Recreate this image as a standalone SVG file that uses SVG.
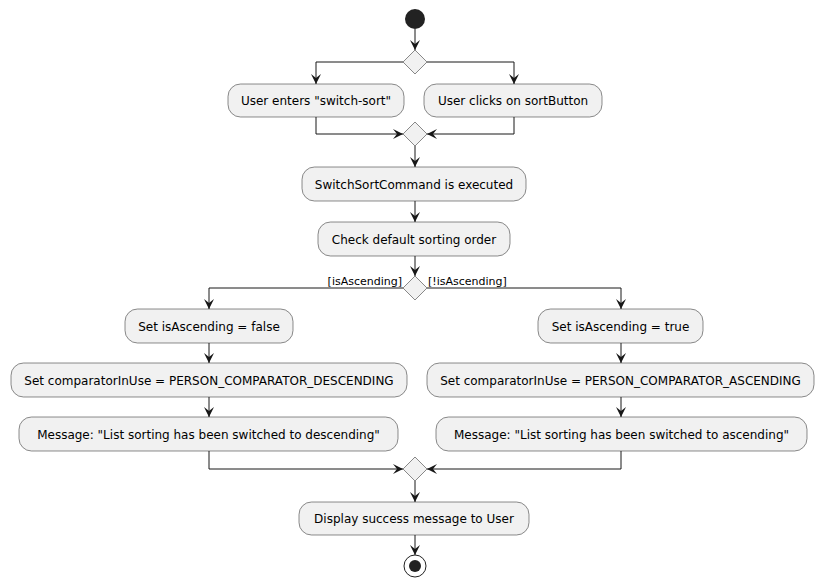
<svg xmlns="http://www.w3.org/2000/svg" width="824" height="587" viewBox="0 0 824 587">
<defs>
<style>
.box rect{fill:#F1F1F1;stroke:#181818;stroke-width:0.5}
.box text{font-family:"DejaVu Sans",sans-serif;font-size:12px;fill:#000;text-anchor:middle}
.dia{fill:#F1F1F1;stroke:#181818;stroke-width:0.5}
.ln{fill:none;stroke:#181818;stroke-width:1}
.lbl{font-family:"DejaVu Sans",sans-serif;font-size:11px;fill:#000}
</style>
<marker id="ah" viewBox="0 0 10 10" refX="10" refY="5" markerWidth="10" markerHeight="10" markerUnits="userSpaceOnUse" orient="auto">
<polygon points="0,0 10,5 0,10 4,5" fill="#181818"/>
</marker>
</defs>
<rect width="824" height="587" fill="#FFFFFF"/>

<g id="connectors">
<path class="ln" d="M415,29 L415,50" marker-end="url(#ah)"/>
<path class="ln" d="M403,62 L316,62 L316,84" marker-end="url(#ah)"/>
<path class="ln" d="M427,62 L514,62 L514,84" marker-end="url(#ah)"/>
<path class="ln" d="M316,117 L316,134 L403,134" marker-end="url(#ah)"/>
<path class="ln" d="M514,117 L514,134 L427,134" marker-end="url(#ah)"/>
<path class="ln" d="M415,146 L415,167" marker-end="url(#ah)"/>
<path class="ln" d="M415,201 L415,222" marker-end="url(#ah)"/>
<path class="ln" d="M415,256 L415,276" marker-end="url(#ah)"/>
<path class="ln" d="M403,288 L209,288 L209,309" marker-end="url(#ah)"/>
<path class="ln" d="M427,288 L621,288 L621,309" marker-end="url(#ah)"/>
<path class="ln" d="M209,343 L209,363" marker-end="url(#ah)"/>
<path class="ln" d="M209,397 L209,417" marker-end="url(#ah)"/>
<path class="ln" d="M621,343 L621,363" marker-end="url(#ah)"/>
<path class="ln" d="M621,397 L621,417" marker-end="url(#ah)"/>
<path class="ln" d="M209,451 L209,469 L403,469" marker-end="url(#ah)"/>
<path class="ln" d="M621,451 L621,469 L427,469" marker-end="url(#ah)"/>
<path class="ln" d="M415,481 L415,502" marker-end="url(#ah)"/>
<path class="ln" d="M415,535 L415,555" marker-end="url(#ah)"/>
<text class="lbl" x="402" y="285" text-anchor="end">[isAscending]</text>
<text class="lbl" x="428" y="285">[!isAscending]</text>
</g>

<g id="start"><circle cx="415" cy="19" r="10" fill="#222222"/></g>
<g id="split1"><polygon class="dia" points="415,50 427,62 415,74 403,62"/></g>
<g id="userEnters" class="box"><rect x="228" y="84" width="176" height="33" rx="12.5"/><text x="316" y="105">User enters "switch-sort"</text></g>
<g id="userClicks" class="box"><rect x="424" y="84" width="178" height="33" rx="12.5"/><text x="513" y="105">User clicks on sortButton</text></g>
<g id="merge1"><polygon class="dia" points="415,122 427,134 415,146 403,134"/></g>
<g id="executed" class="box"><rect x="302" y="167" width="224" height="34" rx="12.5"/><text x="414" y="189">SwitchSortCommand is executed</text></g>
<g id="checkOrder" class="box"><rect x="318" y="222" width="192" height="34" rx="12.5"/><text x="414" y="244">Check default sorting order</text></g>
<g id="decision"><polygon class="dia" points="415,276 427,288 415,300 403,288"/></g>
<g id="setFalse" class="box"><rect x="125" y="309" width="168" height="34" rx="12.5"/><text x="209" y="331">Set isAscending = false</text></g>
<g id="setDesc" class="box"><rect x="11" y="363" width="396" height="34" rx="12.5"/><text x="209" y="385">Set comparatorInUse = PERSON_COMPARATOR_DESCENDING</text></g>
<g id="msgDesc" class="box"><rect x="19" y="417" width="379" height="34" rx="12.5"/><text x="208.5" y="439">Message: "List sorting has been switched to descending"</text></g>
<g id="setTrue" class="box"><rect x="538" y="309" width="165" height="34" rx="12.5"/><text x="620.5" y="331">Set isAscending = true</text></g>
<g id="setAsc" class="box"><rect x="427" y="363" width="387" height="34" rx="12.5"/><text x="620.5" y="385">Set comparatorInUse = PERSON_COMPARATOR_ASCENDING</text></g>
<g id="msgAsc" class="box"><rect x="436" y="417" width="371" height="34" rx="12.5"/><text x="621.5" y="439">Message: "List sorting has been switched to ascending"</text></g>
<g id="merge2"><polygon class="dia" points="415,457 427,469 415,481 403,469"/></g>
<g id="display" class="box"><rect x="299" y="502" width="230" height="33" rx="12.5"/><text x="414" y="523">Display success message to User</text></g>
<g id="end"><circle cx="415" cy="566" r="11" fill="none" stroke="#222222" stroke-width="1"/><circle cx="415" cy="566" r="6" fill="#222222"/></g>
</svg>
